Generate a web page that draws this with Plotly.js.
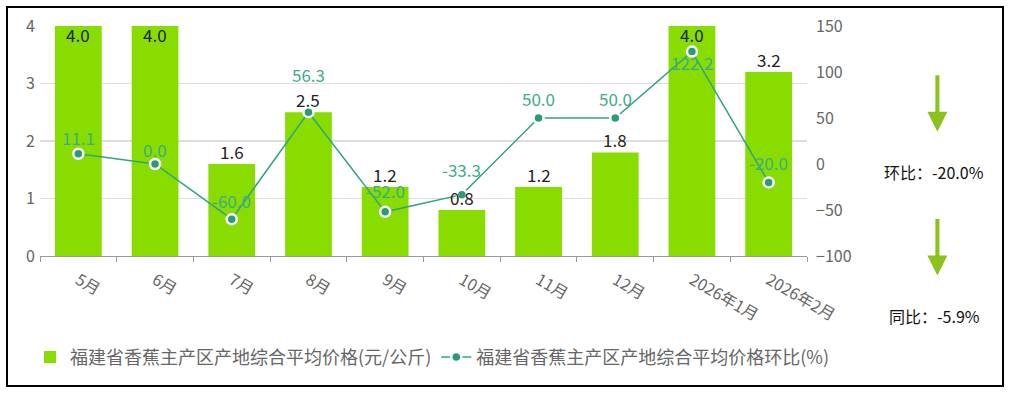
<!DOCTYPE html>
<html><head><meta charset="utf-8">
<script src="https://cdn.plot.ly/plotly-3.0.1.min.js"></script>
<style>
html,body{margin:0;padding:0;background:#fff;}
#wrap{position:relative;width:1014px;height:393px;}
#chart{position:absolute;left:0;top:0;width:1014px;height:393px;}
#border{position:absolute;left:6px;top:6px;width:994px;height:377px;border:2px solid #000;pointer-events:none;}
</style></head>
<body>
<div id="wrap"><div id="chart"></div><div id="border"></div></div>
<script>
const categories = ['5月','6月','7月','8月','9月','10月','11月','12月','2026年1月','2026年2月'];
const priceValues = [4.0, 4.0, 1.6, 2.5, 1.2, 0.8, 1.2, 1.8, 4.0, 3.2];
const momValues = [11.1, 0.0, -60.0, 56.3, -52.0, -33.3, 50.0, 50.0, 122.2, -20.0];
const priceName = '福建省香蕉主产区产地综合平均价格(元/公斤)';
const momName = '福建省香蕉主产区产地综合平均价格环比(%)';
const momSummary = '环比：-20.0%';
const yoySummary = '同比：-5.9%';

// label offsets (style only, pixels above the point)
const momLabelShift = [16, 15, 19, 38, 21, 25, 20, 20, -11, 20];

const FONT = '"Noto Sans CJK SC", "Noto Sans", sans-serif';
const yMax = 4;

const bars = {
  type: 'bar', name: priceName, x: categories, y: priceValues,
  marker: {color: '#88dc00'}, hoverinfo: 'skip'
};
const line = {
  type: 'scatter', mode: 'lines+markers', name: momName,
  x: categories, y: momValues, yaxis: 'y2',
  line: {color: '#33a37f', width: 1.5},
  marker: {color: '#2a9a78', size: 10, line: {color: '#ffffff', width: 2.5}},
  cliponaxis: false, hoverinfo: 'skip'
};

const barLabels = categories.map((c, i) => ({
  xref: 'x', yref: 'y', x: c, y: priceValues[i], text: priceValues[i].toFixed(1),
  showarrow: false, xanchor: 'center', yanchor: 'middle',
  yshift: priceValues[i] >= yMax ? -8 : 13,
  font: {size: 17, color: '#222', family: FONT}
}));
const lineLabels = categories.map((c, i) => ({
  xref: 'x', yref: 'y2', x: c, y: momValues[i], text: momValues[i].toFixed(1),
  showarrow: false, xanchor: 'center', yanchor: 'middle',
  yshift: momLabelShift[i],
  font: {size: 17, color: '#3aad88', family: FONT}
}));

const layout = {
  width: 1014, height: 393,
  margin: {l: 40, r: 207, t: 26, b: 137, autoexpand: false},
  paper_bgcolor: '#fff', plot_bgcolor: '#fff',
  font: {family: FONT, color: '#666', size: 16},
  bargap: 0.39,
  showlegend: true,
  legend: {orientation: 'h', x: -0.013, xanchor: 'left', y: -0.44, yanchor: 'middle',
           font: {size: 18, color: '#666', family: FONT}, itemwidth: 30, tracegroupgap: 0},
  xaxis: {type: 'category', range: [-0.5, categories.length - 0.5], tickangle: 30,
          ticks: 'outside', tickson: 'boundaries',
          ticklen: 5, tickcolor: '#999', showline: true, linecolor: '#999', linewidth: 1,
          showgrid: false, tickfont: {size: 16, color: '#666'}, automargin: false,
          ticklabelstandoff: 8},
  yaxis: {range: [0, 4], dtick: 1, showgrid: true, gridcolor: '#dddddd', gridwidth: 1.5,
          zeroline: false, showline: false, ticks: '', tickfont: {size: 16, color: '#666'},
          ticklabelstandoff: 4, automargin: false},
  yaxis2: {range: [-100, 150], dtick: 50, overlaying: 'y', side: 'right', showgrid: false,
           zeroline: false, showline: false, ticks: '', tickfont: {size: 16, color: '#666'},
           ticklabelstandoff: 8, automargin: false},
  annotations: barLabels.concat(lineLabels, [
    {xref: 'paper', yref: 'paper', x: 1.166, y: 0.365, text: momSummary, showarrow: false,
     font: {size: 16, color: '#111'}, xanchor: 'center', yanchor: 'middle'},
    {xref: 'paper', yref: 'paper', x: 1.166, y: -0.26, text: yoySummary, showarrow: false,
     font: {size: 16, color: '#111'}, xanchor: 'center', yanchor: 'middle'},
    {xref: 'paper', yref: 'paper', x: 1.17, y: 0.54, ax: 0, ay: -58, text: '', showarrow: true,
     arrowcolor: '#8bc21c', arrowwidth: 4, arrowhead: 2, arrowsize: 1},
    {xref: 'paper', yref: 'paper', x: 1.17, y: -0.085, ax: 0, ay: -58, text: '', showarrow: true,
     arrowcolor: '#8bc21c', arrowwidth: 4, arrowhead: 2, arrowsize: 1}
  ])
};
Plotly.newPlot('chart', [bars, line], layout, {displayModeBar: false, staticPlot: true});
</script>
</body></html>
